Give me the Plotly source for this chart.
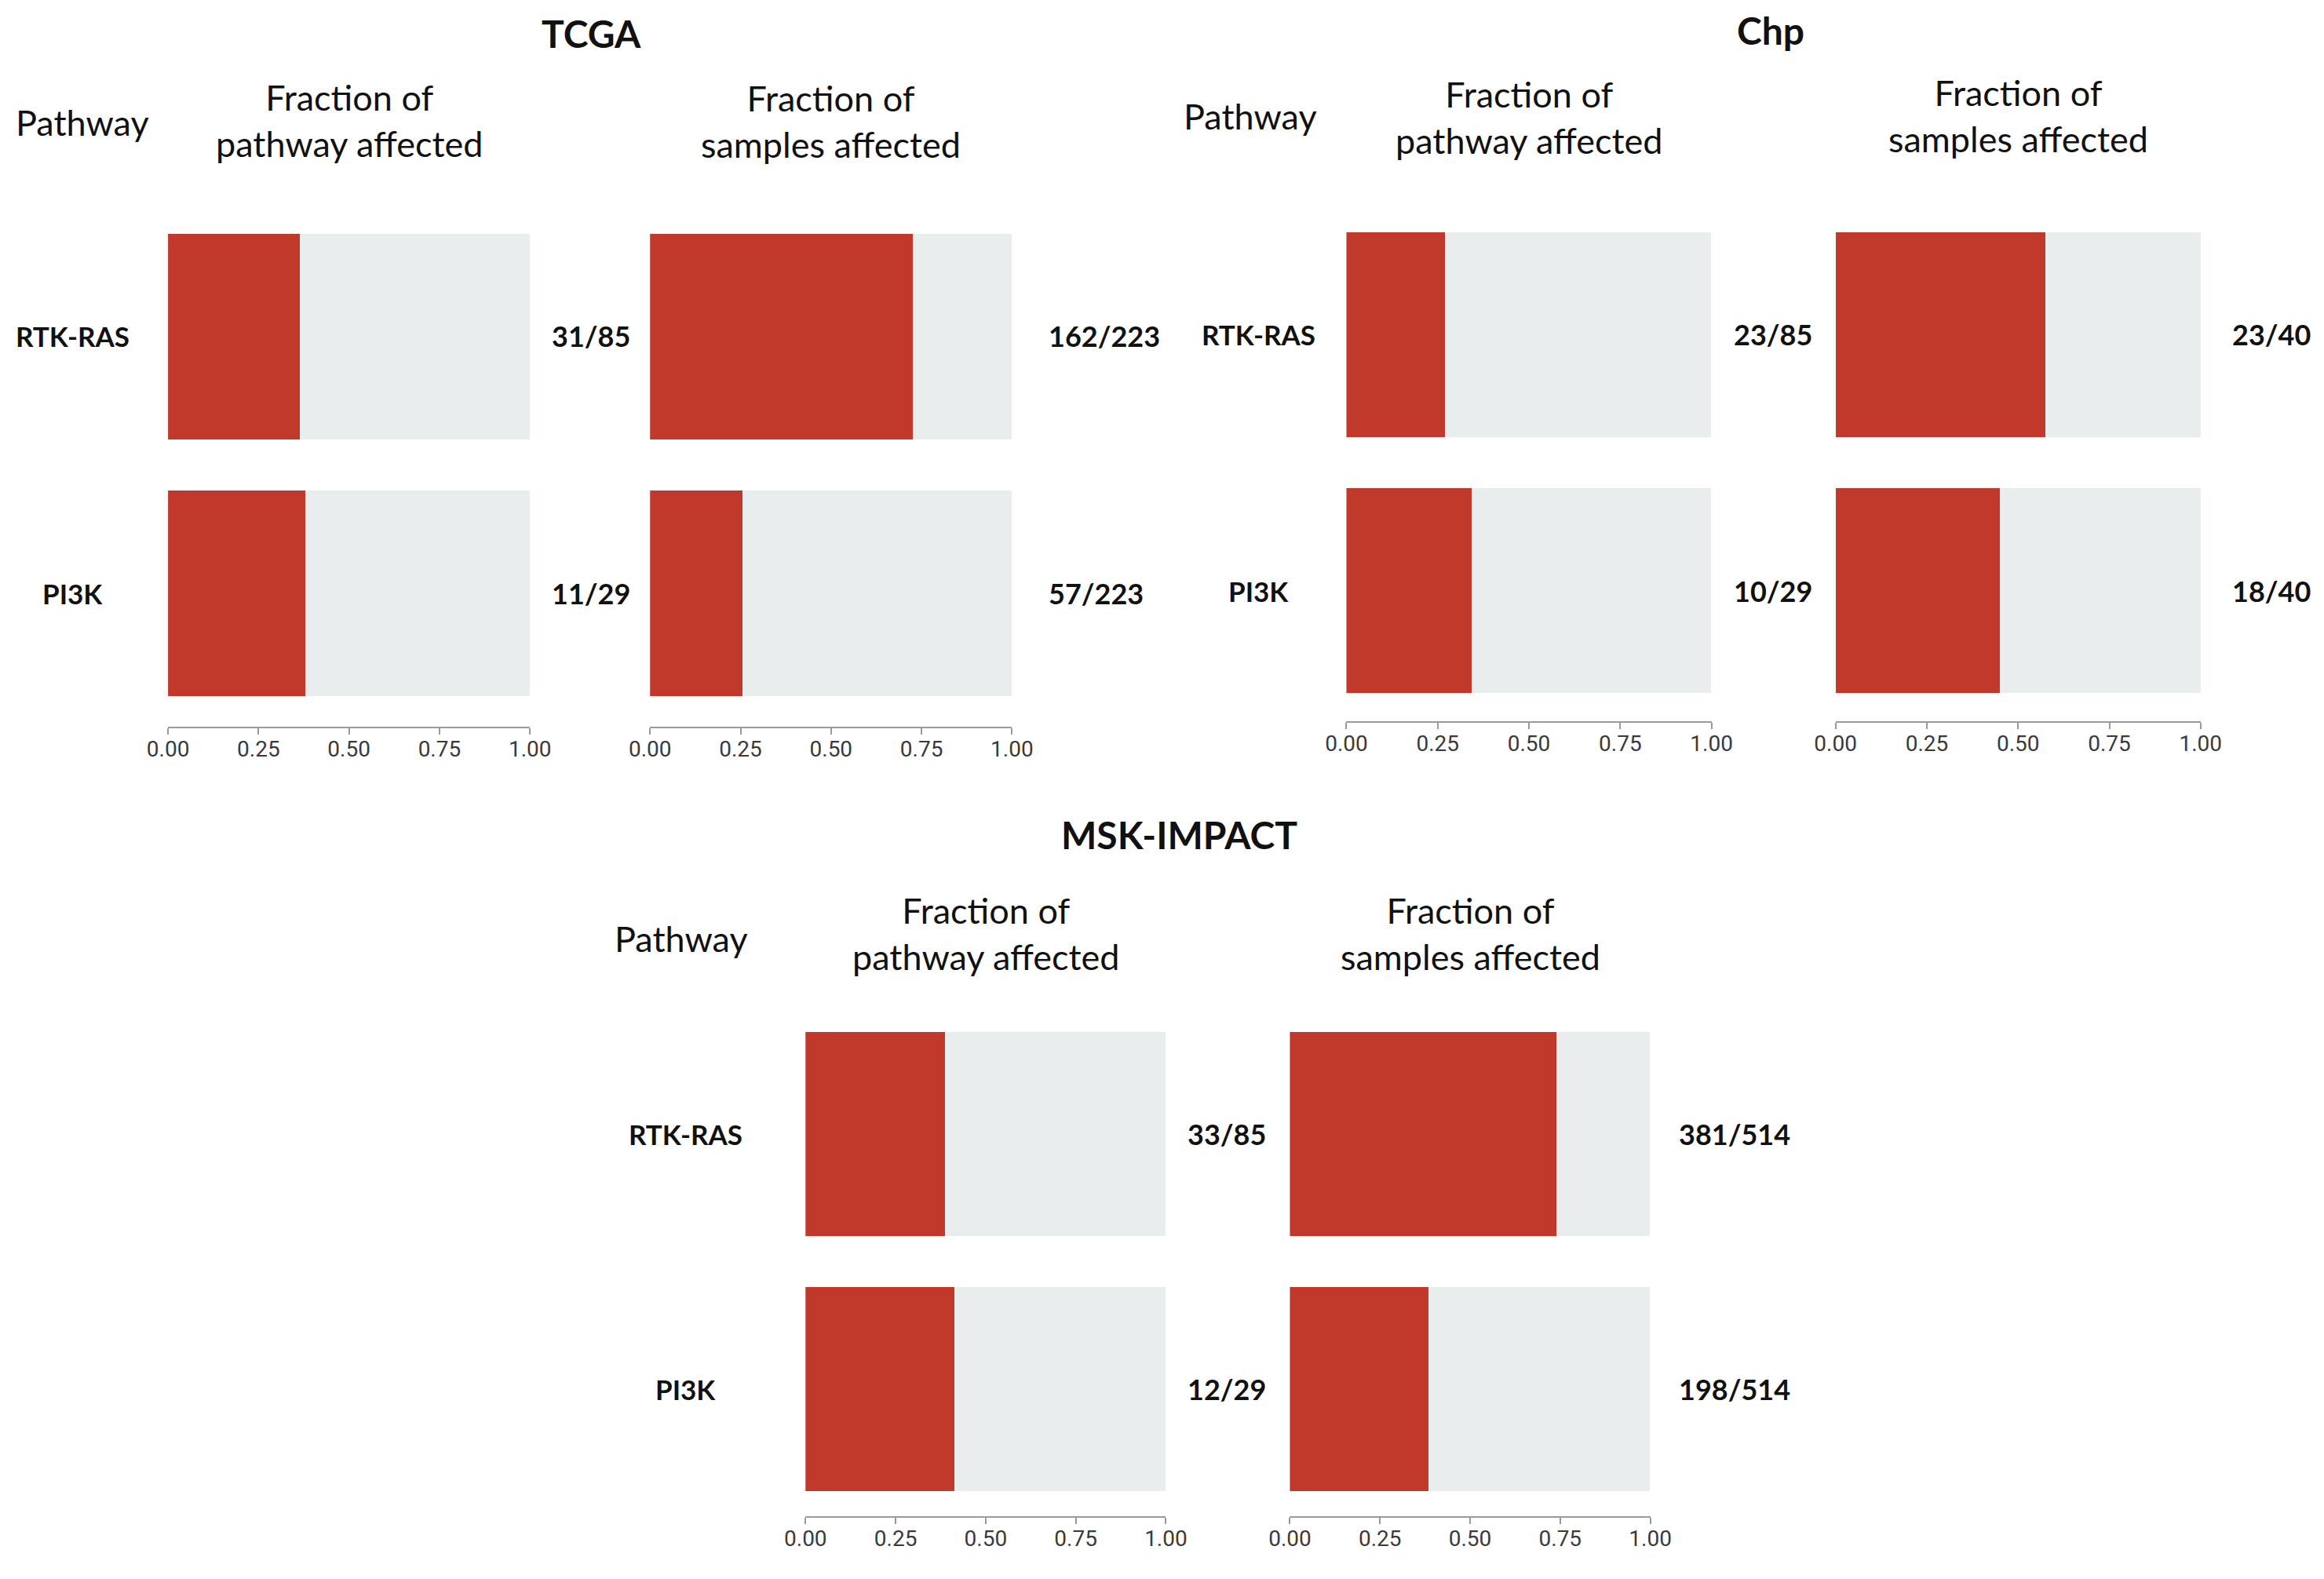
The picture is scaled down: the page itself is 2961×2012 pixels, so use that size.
import plotly.graph_objects as go

# ---------------- data ----------------
pathways = ["RTK-RAS", "PI3K"]
datasets = ["TCGA", "Chp", "MSK-IMPACT"]

tcga_pathway_num = [31, 11]
tcga_pathway_den = [85, 29]
tcga_sample_num = [162, 57]
tcga_sample_den = [223, 223]

chp_pathway_num = [23, 10]
chp_pathway_den = [85, 29]
chp_sample_num = [23, 18]
chp_sample_den = [40, 40]

msk_pathway_num = [33, 12]
msk_pathway_den = [85, 29]
msk_sample_num = [381, 198]
msk_sample_den = [514, 514]

tick_vals = [0, 0.25, 0.5, 0.75, 1.0]
tick_text = ["0.00", "0.25", "0.50", "0.75", "1.00"]

header_pathway = "Pathway"
header_frac_pathway = "Fraction of<br>pathway affected"
header_frac_samples = "Fraction of<br>samples affected"

# ---------------- layout constants (pixels) ----------------
W, H = 2961, 2012
OY = 8          # vertical page offset compensation
SX, OX = 1.01885, -34.6   # horizontal page offset compensation
RED = "#c0392b"
BG = "#eaeded"
FONT = "Lato"
TICKFONT = "Roboto"

geo = {
    "TCGA": dict(px=[(213, 674), (827, 1288)], c=(428.5, 756), u=327.5, ylo=-0.52,
                 title=(752, 42), hdr_y=[153, 155], path_x=104, path_y=156, lab_x=91,
                 rshift=[26, 45]),
    "Chp": dict(px=[(1714, 2179), (2337, 2802)], c=(426, 752.5), u=326.5, ylo=-0.51,
                title=(2254, 38), hdr_y=[150, 147], path_x=1592, path_y=148, lab_x=1602,
                rshift=[26, 38]),
    "MSK-IMPACT": dict(px=[(1025, 1484), (1642, 2101)], c=(1444.5, 1769.5), u=325, ylo=-0.50,
                       title=(1501, 1063), hdr_y=[1189, 1189], path_x=867, path_y=1196, lab_x=872,
                       rshift=[26, 34]),
}
YHI = 1.5

data = {
    "TCGA": [(tcga_pathway_num, tcga_pathway_den), (tcga_sample_num, tcga_sample_den)],
    "Chp": [(chp_pathway_num, chp_pathway_den), (chp_sample_num, chp_sample_den)],
    "MSK-IMPACT": [(msk_pathway_num, msk_pathway_den), (msk_sample_num, msk_sample_den)],
}

ypos = {"RTK-RAS": 1, "PI3K": 0}
yvals = [ypos[p] for p in pathways]


def py(p):
    return 1 - (p - OY) / H


def px(p):
    return (SX * p + OX) / W


fig = go.Figure()
annotations = []
layout_axes = {}
k = 0
for ds in datasets:
    g = geo[ds]
    top = g["c"][0] - (YHI - 1) * g["u"]
    bot = g["c"][1] - g["ylo"] * g["u"]
    ydom = [py(bot), py(top)]
    for j, (num, den) in enumerate(data[ds]):
        k += 1
        xa = "x" if k == 1 else f"x{k}"
        ya = "y" if k == 1 else f"y{k}"
        x0, x1 = g["px"][j]
        frac = [n / d for n, d in zip(num, den)]
        fig.add_trace(go.Bar(x=[1] * len(pathways), y=yvals, orientation="h",
                             marker=dict(color=BG, line=dict(width=0)), width=0.8,
                             xaxis=xa, yaxis=ya, showlegend=False, hoverinfo="skip"))
        fig.add_trace(go.Bar(x=frac, y=yvals, orientation="h",
                             marker=dict(color=RED, line=dict(width=0)), width=0.8,
                             xaxis=xa, yaxis=ya, showlegend=False,
                             customdata=pathways, hovertemplate="%{customdata}: %{x:.2f}<extra></extra>"))
        layout_axes["xaxis" if k == 1 else f"xaxis{k}"] = dict(
            domain=[px(x0), px(x1)], range=[0, 1], anchor=ya,
            tickvals=tick_vals, ticktext=tick_text, showline=True, linecolor="#9a9a9a",
            linewidth=2, ticks="outside", ticklen=8, tickwidth=2, tickcolor="#9a9a9a",
            showgrid=False, zeroline=False, fixedrange=True, ticklabelstandoff=-6,
            tickfont=dict(family=TICKFONT, size=28, color="#3a3a3a"))
        layout_axes["yaxis" if k == 1 else f"yaxis{k}"] = dict(
            domain=ydom, range=[g["ylo"], YHI], anchor=xa, visible=False, fixedrange=True)
        for p, n, d in zip(pathways, num, den):
            annotations.append(dict(x=1, xref=f"{xa} domain", y=ypos[p], yref=ya,
                                    xanchor="left", yanchor="middle", xshift=g["rshift"][j],
                                    text=f"{n}/{d}", showarrow=False,
                                    font=dict(family=FONT, size=36, color="#111111", weight="bold")))
        annotations.append(dict(x=px((x0 + x1) / 2), xref="paper", y=py(g["hdr_y"][j]), yref="paper",
                                xanchor="center", yanchor="middle", showarrow=False,
                                text=header_frac_pathway if j == 0 else header_frac_samples,
                                font=dict(family=FONT, size=45, color="#111111")))
        if j == 0:
            for p in pathways:
                annotations.append(dict(x=px(g["lab_x"]), xref="paper", y=ypos[p], yref=ya,
                                        xanchor="center", yanchor="middle", showarrow=False,
                                        text=p, font=dict(family=FONT, size=35, color="#111111", weight="bold")))
    annotations.append(dict(x=px(g["title"][0]), xref="paper", y=py(g["title"][1]), yref="paper",
                            xanchor="center", yanchor="middle", showarrow=False, text=ds,
                            font=dict(family=FONT, size=48, color="#111111", weight="bold")))
    annotations.append(dict(x=px(g["path_x"]), xref="paper", y=py(g["path_y"]), yref="paper",
                            xanchor="center", yanchor="middle", showarrow=False, text=header_pathway,
                            font=dict(family=FONT, size=45, color="#111111")))

fig.update_layout(width=W, height=H, margin=dict(l=0, r=0, t=0, b=0),
                  paper_bgcolor="white", plot_bgcolor="white", barmode="overlay",
                  bargap=0, annotations=annotations, **layout_axes)

fig.write_html("out.html")
